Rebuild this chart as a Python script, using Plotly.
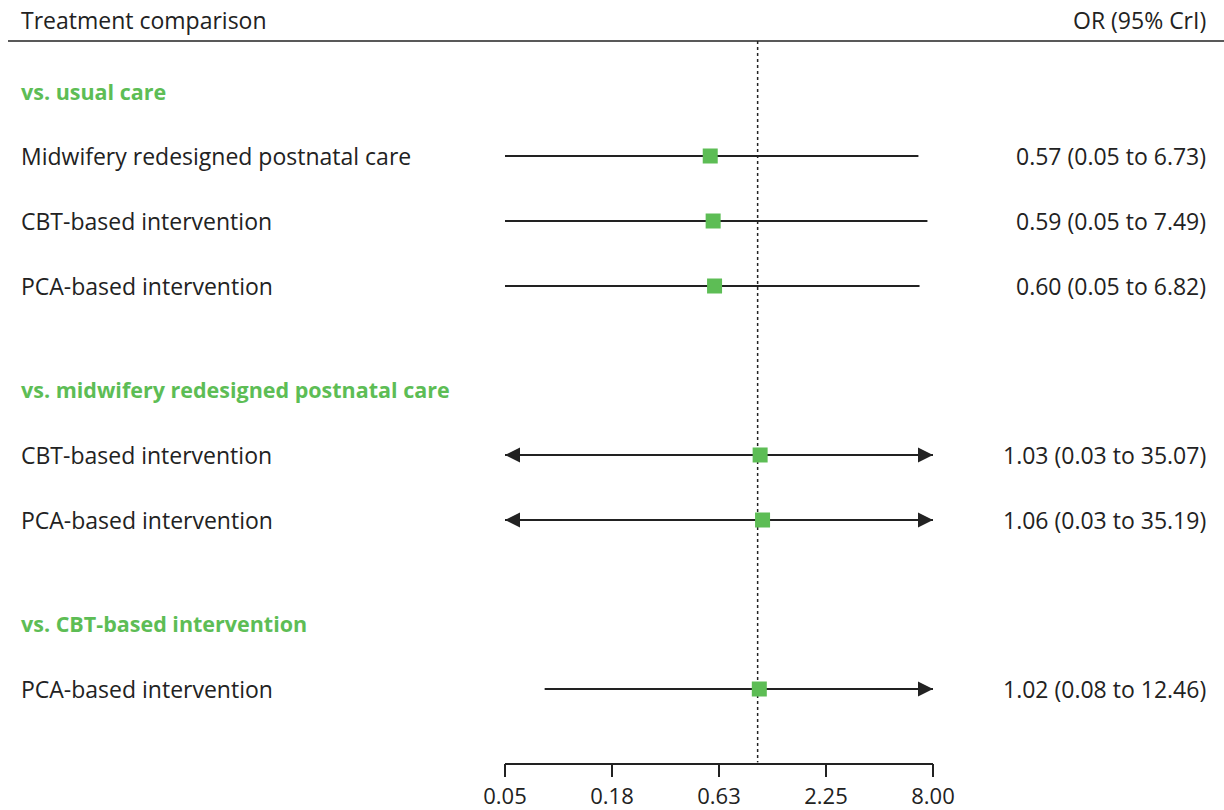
import math
import plotly.graph_objects as go

# ---- data ----
groups = ["vs. usual care", "vs. midwifery redesigned postnatal care", "vs. CBT-based intervention"]
group_rows = [0.0, 4.6, 8.2]
labels = ["Midwifery redesigned postnatal care", "CBT-based intervention", "PCA-based intervention",
          "CBT-based intervention", "PCA-based intervention",
          "PCA-based intervention"]
item_rows = [1, 2, 3, 5.6, 6.6, 9.2]
or_est = [0.57, 0.59, 0.60, 1.03, 1.06, 1.02]
ci_lo = [0.05, 0.05, 0.05, 0.03, 0.03, 0.08]
ci_hi = [6.73, 7.49, 6.82, 35.07, 35.19, 12.46]
tick_vals = [0.05, 0.1778, 0.6325, 2.249, 8.0]
tick_text = ["0.05", "0.18", "0.63", "2.25", "8.00"]
x_min, x_max = 0.05, 8.0

GREEN = "#5dbd55"
DARK = "#222222"
FONT = "Open Sans"
FS = 23
FS_TICK = 22
FS_HEAD = 21.5
X_LEFT = 19 / 1224
X_RIGHT = 1208 / 1224

fig = go.Figure()

# reference line at OR = 1
fig.add_trace(go.Scatter(x=[1, 1], y=[-0.77, 10.33], mode="lines",
                         line=dict(color=DARK, width=1.5, dash="dot"),
                         hoverinfo="skip", showlegend=False))

annotations = []
arrow_style = dict(xref="x", yref="y", axref="x", ayref="y", showarrow=True,
                   arrowhead=2, arrowsize=2.0, arrowwidth=1.5, arrowcolor=DARK, text="")
for lab, r, est, lo, hi in zip(labels, item_rows, or_est, ci_lo, ci_hi):
    lo_c = max(lo, x_min)
    hi_c = min(hi, x_max)
    fig.add_trace(go.Scatter(x=[lo_c, hi_c], y=[r, r], mode="lines",
                             line=dict(color=DARK, width=1.8),
                             hoverinfo="skip", showlegend=False))
    if lo < x_min:
        annotations.append(dict(x=math.log10(x_min), y=r, ax=math.log10(x_min) + 0.3, ay=r, **arrow_style))
    if hi > x_max:
        annotations.append(dict(x=math.log10(x_max), y=r, ax=math.log10(x_max) - 0.3, ay=r, **arrow_style))
    annotations.append(dict(x=X_LEFT, y=r, xref="paper", yref="y", text=lab, showarrow=False,
                            xanchor="left", yanchor="middle", font=dict(family=FONT, size=FS, color=DARK)))
    annotations.append(dict(x=X_RIGHT, y=r, xref="paper", yref="y",
                            text=f"{est:.2f} ({lo:.2f} to {hi:.2f})", showarrow=False,
                            xanchor="right", yanchor="middle", font=dict(family=FONT, size=FS, color=DARK)))

fig.add_trace(go.Scatter(x=or_est, y=item_rows, mode="markers",
                         marker=dict(symbol="square", size=15, color=GREEN),
                         hoverinfo="skip", showlegend=False))

for g, r in zip(groups, group_rows):
    annotations.append(dict(x=X_LEFT, y=r, xref="paper", yref="y", text=f"<b>{g}</b>", showarrow=False,
                            xanchor="left", yanchor="middle", font=dict(family=FONT, size=FS_HEAD, color=GREEN)))

annotations.append(dict(x=X_LEFT, y=-1.1, xref="paper", yref="y", text="Treatment comparison",
                        showarrow=False, xanchor="left", yanchor="middle",
                        font=dict(family=FONT, size=FS, color=DARK)))
annotations.append(dict(x=X_RIGHT, y=-1.1, xref="paper", yref="y", text="OR (95% CrI)",
                        showarrow=False, xanchor="right", yanchor="middle",
                        font=dict(family=FONT, size=FS, color=DARK)))

fig.update_layout(
    template="none",
    width=1224, height=810, autosize=False,
    margin=dict(l=0, r=0, t=0, b=0, pad=0, autoexpand=False),
    paper_bgcolor="white", plot_bgcolor="white",
    showlegend=False,
    annotations=annotations,
    shapes=[dict(type="line", xref="paper", yref="y", x0=8 / 1224, x1=1, y0=-0.77, y1=-0.77,
                 line=dict(color=DARK, width=1.6))],
    xaxis=dict(type="log", range=[math.log10(x_min), math.log10(x_max)],
               domain=[505 / 1224, 933 / 1224], automargin=False,
               showgrid=False, zeroline=False, showline=True, linecolor=DARK, linewidth=1.5,
               ticks="outside", ticklen=13, tickwidth=1.5, tickcolor=DARK,
               tickvals=tick_vals, ticktext=tick_text,
               tickfont=dict(family=FONT, size=FS_TICK, color=DARK)),
    yaxis=dict(range=[10.334, -1.4], domain=[(810 - 762.7) / 810, 1], automargin=False,
               showgrid=False, zeroline=False, showline=False, showticklabels=False, ticks=""),
)

fig.write_html("out.html", config={"displayModeBar": False},
               post_script="document.body.style.margin='0';")
